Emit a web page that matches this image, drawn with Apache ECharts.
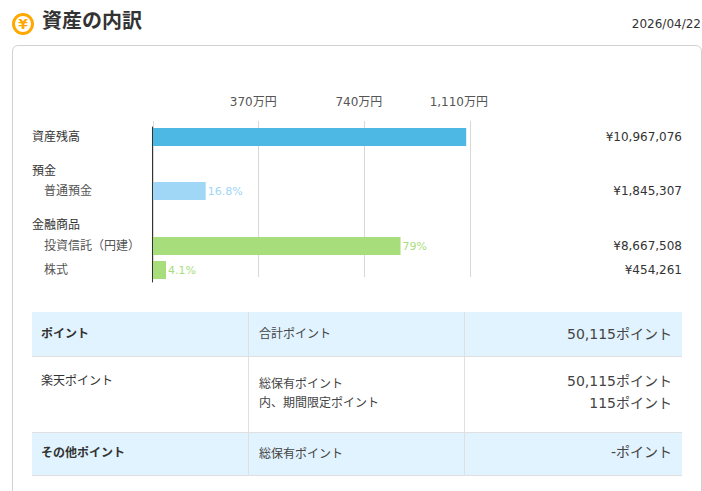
<!DOCTYPE html>
<html lang="ja">
<head>
<meta charset="utf-8">
<title>資産の内訳</title>
<script src="https://cdn.jsdelivr.net/npm/echarts@6/dist/echarts.min.js"></script>
<style>
  html, body { margin: 0; padding: 0; background: #fff; }
  body { position: relative; width: 702px; height: 491px; overflow: hidden;
         font-family: "DejaVu Sans", "Noto Sans CJK JP", sans-serif; color: #333; font-size: 12px; }
  .abs { position: absolute; white-space: nowrap; line-height: 1; }
  #icon { left: 12px; top: 13px; width: 16px; height: 16px; border: 3px solid #ffa800; border-radius: 50%;
          color: #ffa800; font-weight: bold; font-size: 14px; line-height: 16px; text-align: center; }
  #heading { left: 42px; top: 11px; font-size: 20px; font-weight: bold; color: #333; }
  #date { right: 1px; top: 18px; font-size: 12px; color: #333; }
  #card { position: absolute; left: 12px; top: 45px; width: 688px; height: 470px;
          border: 1px solid #d2d2d2; border-radius: 6px; }
  #chart { position: absolute; left: 0; top: 0; width: 702px; height: 300px; }
  #points { position: absolute; left: 32px; top: 312px; width: 650px; border-collapse: collapse;
            table-layout: fixed; color: #444; }
  #points td { padding: 0 10px 0 9px; border-bottom: 1px solid #e0e0e0; border-right: 1px solid #e0e0e0; }
  #points td:nth-child(2) { padding-left: 10px; }
  #points td:last-child { border-right: 0; text-align: right; font-size: 14px; }
  #points td:first-child { color: #333; }
  #points tr.tint td { background: #e1f3fe; padding-bottom: 2px; }
  #points tr.tint.last td { padding-bottom: 5px; }
  #points tr.tint.last td:nth-child(2) { padding-bottom: 3px; }
  #points tr.tint td:first-child { font-weight: bold; }
  #points tr.plain td { vertical-align: top; line-height: 19px; }
  #points tr.plain td:nth-child(1) { padding-top: 15px; }
  #points tr.plain td:nth-child(2) { padding-top: 18px; }
  #points tr.plain td:nth-child(3) { padding-top: 13px; line-height: 22px; }
</style>
</head>
<body>
<div class="abs" id="icon">¥</div>
<div class="abs" id="heading">資産の内訳</div>
<div class="abs" id="date">2026/04/22</div>
<div id="card"></div>
<div id="chart"></div>
<table id="points">
  <colgroup><col style="width:216.5px"><col style="width:216px"><col></colgroup>
  <tr class="tint" style="height:44px"><td>ポイント</td><td>合計ポイント</td><td>50,115ポイント</td></tr>
  <tr class="plain" style="height:76px"><td>楽天ポイント</td><td>総保有ポイント<br>内、期間限定ポイント</td><td>50,115ポイント<br>115ポイント</td></tr>
  <tr class="tint last" style="height:43px"><td>その他ポイント</td><td>総保有ポイント</td><td>-ポイント</td></tr>
</table>
<script>
// Asset balances in yen, one group per block of rows
const totalLabels = ['資産残高'];
const totalValues = [10967076];
const depositLabels = ['普通預金'];
const depositValues = [1845307];
const depositShares = ['16.8%'];
const productLabels = ['投資信託（円建）', '株式'];
const productValues = [8667508, 454261];
const productShares = ['79%', '4.1%'];
const groupHeadings = ['預金', '金融商品'];
const axisMax = 11100000;
const axisStep = 3700000;

const FONT = '"DejaVu Sans", "Noto Sans CJK JP", sans-serif';
const PLOT_LEFT = 153;
const PLOT_WIDTH = 317;
const LABEL_X = 32;
const VALUE_X = 682;
const yen = v => '¥' + v.toLocaleString('en-US');

const grids = [], xAxes = [], yAxes = [], series = [];

function addGrid(top, height, left) {
  grids.push({ left: left === undefined ? PLOT_LEFT : left, width: PLOT_WIDTH, top, height });
  return grids.length - 1;
}

function hiddenX(gridIndex) {
  xAxes.push({ type: 'value', gridIndex, min: 0, max: axisMax, interval: axisStep, show: false });
  return xAxes.length - 1;
}

// One block of bars: names on the left, amounts on the right, shares beside the bars
function addBlock(top, labels, values, color, shares, labelColor, labelIndent) {
  const gridIndex = addGrid(top, labels.length * 24);
  const xAxisIndex = hiddenX(gridIndex);
  const bare = { axisLine: { show: false }, axisTick: { show: false } };
  yAxes.push(Object.assign({
    type: 'category', gridIndex, inverse: true, data: labels, position: 'left',
    axisLabel: { align: 'left', margin: PLOT_LEFT - LABEL_X - labelIndent, fontFamily: FONT, fontSize: 12, color: labelColor }
  }, bare));
  const yAxisIndex = yAxes.length - 1;
  yAxes.push(Object.assign({
    type: 'category', gridIndex, inverse: true, data: values.map(yen), position: 'right',
    axisLabel: { align: 'right', margin: VALUE_X - PLOT_LEFT - PLOT_WIDTH, fontFamily: FONT, fontSize: 12, color: '#333' }
  }, bare));
  series.push({
    type: 'bar', xAxisIndex, yAxisIndex, data: values, barWidth: 18, silent: true,
    itemStyle: { color },
    label: shares ? {
      show: true, position: 'right', distance: 2, fontFamily: FONT, fontSize: 11, color,
      formatter: p => shares[p.dataIndex]
    } : { show: false }
  });
}

// Scale with the vertical guide lines and the tick labels on top
const scaleGrid = addGrid(121, 156);
xAxes.push({
  type: 'value', gridIndex: scaleGrid, position: 'top', min: 0, max: axisMax, interval: axisStep,
  axisLine: { show: false }, axisTick: { show: false },
  splitLine: { show: true, lineStyle: { color: '#d8d8d8', width: 1 } },
  axisLabel: {
    margin: 13, align: 'right', padding: [0, -18, 0, 0], fontFamily: FONT, fontSize: 12, color: '#555',
    formatter: v => v === 0 ? '' : (v / 10000).toLocaleString('en-US') + '万円'
  }
});
yAxes.push({ type: 'category', gridIndex: scaleGrid, data: [''], show: false });
series.push({ type: 'bar', xAxisIndex: 0, yAxisIndex: 0, data: [] });

// Dark baseline running down the whole block of bars, just left of their start
const baseGrid = addGrid(127, 155, PLOT_LEFT - 1);
hiddenX(baseGrid);
yAxes.push({
  type: 'category', gridIndex: baseGrid, data: [''],
  axisLine: { show: true, lineStyle: { color: '#333', width: 1 } },
  axisTick: { show: false }, axisLabel: { show: false }
});
series.push({ type: 'bar', xAxisIndex: 1, yAxisIndex: 1, data: [] });

addBlock(125, totalLabels, totalValues, '#4db8e3', null, '#333', 0);
addBlock(179, depositLabels, depositValues, '#a0d6f6', depositShares, '#555', 12);
addBlock(234, productLabels, productValues, '#a8dd7c', productShares, '#555', 12);

const headingRows = [171, 225];
const chart = echarts.init(document.getElementById('chart'), null, { renderer: 'svg' });
chart.setOption({
  animation: false,
  grid: grids, xAxis: xAxes, yAxis: yAxes, series,
  graphic: groupHeadings.map((text, i) => ({
    type: 'text', x: LABEL_X, y: headingRows[i],
    style: { text, font: '12px ' + FONT, fill: '#333', verticalAlign: 'middle' }
  }))
});
</script>
</body>
</html>
